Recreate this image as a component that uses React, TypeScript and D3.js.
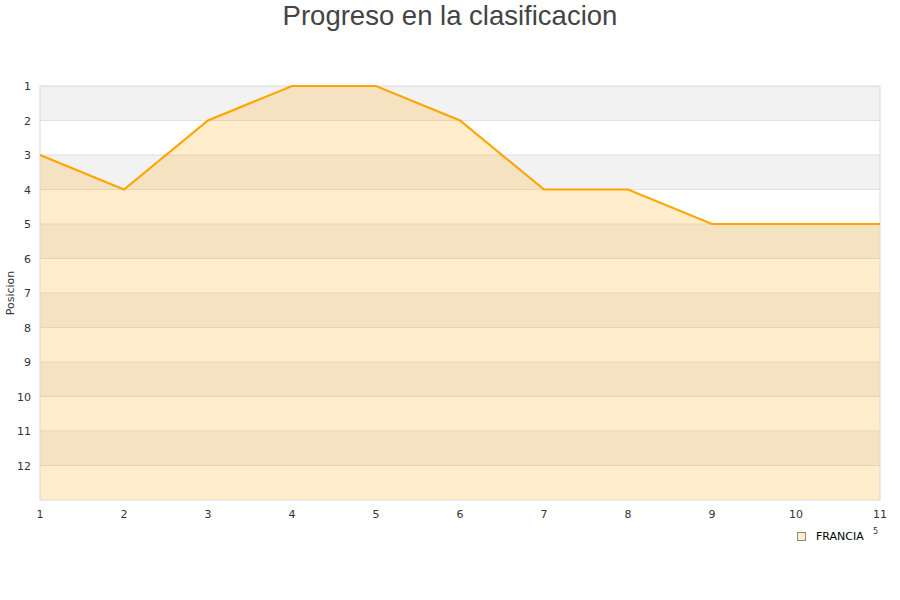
import React from "react";
import * as d3 from "d3";

const jornadas = [1, 2, 3, 4, 5, 6, 7, 8, 9, 10, 11];
const posiciones = [3, 4, 2, 1, 1, 2, 4, 4, 5, 5, 5];
const yTicks = [1, 2, 3, 4, 5, 6, 7, 8, 9, 10, 11, 12];
const seriesName = "FRANCIA";
const title = "Progreso en la clasificacion";
const yLabel = "Posicion";

export default function App() {
  const W = 900, H = 600;
  const left = 40, right = 880, top = 86, bottom = 500;
  const x = d3.scaleLinear().domain([1, 11]).range([left, right]);
  const y = d3.scaleLinear().domain([1, 13]).range([top, bottom]);
  const pts = jornadas.map((j, i) => [j, posiciones[i]] as [number, number]);
  const line = d3.line<[number, number]>().x(d => x(d[0])).y(d => y(d[1]));
  const area = d3.area<[number, number]>().x(d => x(d[0])).y0(bottom).y1(d => y(d[1]));
  const bands = d3.range(1, 13);
  return (
    <svg width={W} height={H} style={{ position: "absolute", left: 0, top: 0 }}>
      <rect x={0} y={0} width={W} height={H} fill="#fff" />
      <text x={450} y={25} textAnchor="middle" fontFamily="Liberation Sans, Arial, sans-serif" fontSize={27.5} fill="#444">{title}</text>
      {bands.map(b => (
        <rect key={b} x={left} y={y(b)} width={right - left} height={y(b + 1) - y(b)} fill={b % 2 === 1 ? "#f2f2f2" : "#ffffff"} />
      ))}
      {yTicks.slice(1).map(t => (
        <line key={t} x1={left} x2={right} y1={y(t)} y2={y(t)} stroke="#e0e0e0" strokeWidth={1} />
      ))}
      <path d={area(pts) || ""} fill="#ffa500" fillOpacity={0.2} />
      <rect x={left} y={top} width={right - left} height={bottom - top} fill="none" stroke="#d8d8d8" strokeWidth={1} />
      <path d={line(pts) || ""} fill="none" stroke="#ffa500" strokeWidth={2.2} />
      {yTicks.map(t => (
        <text key={t} x={31} y={y(t) + 4} textAnchor="end" fontFamily="DejaVu Sans, sans-serif" fontSize={11} fill="#333">{t}</text>
      ))}
      {jornadas.map(j => (
        <text key={j} x={x(j)} y={518} textAnchor="middle" fontFamily="DejaVu Sans, sans-serif" fontSize={11} fill="#333">{j}</text>
      ))}
      <text transform={`translate(14,${(top + bottom) / 2}) rotate(-90)`} textAnchor="middle" fontFamily="DejaVu Sans, sans-serif" fontSize={11} fill="#333">{yLabel}</text>
      <rect x={797.5} y={532.5} width={8} height={8} fill="#feedcc" stroke="#888" strokeWidth={1} />
      <text x={816} y={540} fontFamily="DejaVu Sans, sans-serif" fontSize={11} fill="#000">{seriesName}</text>
      <text x={873} y={534} fontFamily="DejaVu Sans, sans-serif" fontSize={8} fill="#333">5</text>
    </svg>
  );
}
